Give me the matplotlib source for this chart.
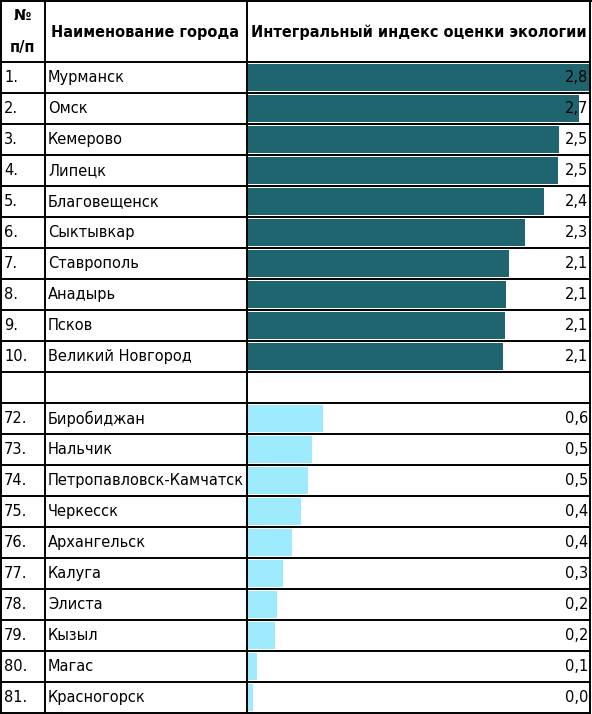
import matplotlib
matplotlib.use("Agg")
import matplotlib.pyplot as plt

# --- data ---
top_nums = ['1.', '2.', '3.', '4.', '5.', '6.', '7.', '8.', '9.', '10.']
top_cities = ['Мурманск', 'Омск', 'Кемерово', 'Липецк', 'Благовещенск',
              'Сыктывкар', 'Ставрополь', 'Анадырь', 'Псков', 'Великий Новгород']
top_values = [2.80, 2.71, 2.549, 2.54, 2.42, 2.27, 2.14, 2.11, 2.10, 2.09]

bottom_nums = ['72.', '73.', '74.', '75.', '76.', '77.', '78.', '79.', '80.', '81.']
bottom_cities = ['Биробиджан', 'Нальчик', 'Петропавловск-Камчатск', 'Черкесск',
                 'Архангельск', 'Калуга', 'Элиста', 'Кызыл', 'Магас', 'Красногорск']
bottom_values = [0.61, 0.52, 0.49, 0.43, 0.36, 0.29, 0.24, 0.22, 0.07, 0.04]

headers = ['№\n\nп/п', 'Наименование города', 'Интегральный индекс оценки экологии']

top_color = '#1F6570'
bottom_color = '#9DEBFC'

W, H = 592, 714
col_x = [1, 44.5, 246.5, 590]
header_h = 62
row_h = 31
n_rows = len(top_nums) + 1 + len(bottom_nums)

font = 'DejaVu Sans'
body_size = 10.5
head_size = 10.45

fig = plt.figure(figsize=(W / 100, H / 100), dpi=100)

# bar column axes (drawn first, table overlay goes on top)
bx0, bx1 = 248, 590
by0, by1 = header_h, header_h + n_rows * row_h
bax = fig.add_axes([bx0 / W, 1 - by1 / H, (bx1 - bx0) / W, (by1 - by0) / H])
bax.set_xlim(0, max(top_values))
bax.set_ylim(n_rows, 0)
bax.axis('off')

top_pos = [i + 0.5 for i in range(len(top_values))]
bot_pos = [len(top_values) + 1 + i + 0.5 for i in range(len(bottom_values))]
bax.barh(top_pos, top_values, height=0.86, left=0, color=top_color)
bax.barh(bot_pos, bottom_values, height=0.86, left=0, color=bottom_color)

ax = fig.add_axes([0, 0, 1, 1])
ax.set_xlim(0, W)
ax.set_ylim(H, 0)
ax.axis('off')

# header
ax.text((col_x[0] + col_x[1]) / 2, 31.5, headers[0], ha='center', va='center',
        fontsize=head_size, weight='bold', family=font, linespacing=1.05)
ax.text(51, 32, headers[1], ha='left', va='center', fontsize=head_size,
        weight='bold', family=font)
ax.text(251, 32, headers[2], ha='left', va='center', fontsize=head_size,
        weight='bold', family=font)

# rows
rows = list(zip(top_nums, top_cities, top_values)) + [None] + \
    list(zip(bottom_nums, bottom_cities, bottom_values))
for i, r in enumerate(rows):
    if r is None:
        continue
    yc = header_h + (i + 0.5) * row_h
    num, city, val = r
    ax.text(4, yc, num, ha='left', va='center', fontsize=body_size, family=font)
    t = ax.text(48, yc, city, ha='left', va='center', fontsize=body_size, family=font)
    t.set_clip_path(plt.Rectangle((col_x[1], 0), col_x[2] - col_x[1], H,
                                  transform=ax.transData))
    ax.text(588, yc, f'{val:.1f}'.replace('.', ','), ha='right', va='center',
            fontsize=body_size, family=font)

# grid lines
lw = 1.4
for x in col_x:
    ax.plot([x, x], [0, by1], color='black', lw=lw)
ax.plot([0, W], [1, 1], color='black', lw=lw)
for i in range(n_rows + 1):
    y = header_h + i * row_h
    ax.plot([0, col_x[-1]], [y, y], color='black', lw=lw)

fig.savefig('out.png', dpi=100, facecolor='white')
